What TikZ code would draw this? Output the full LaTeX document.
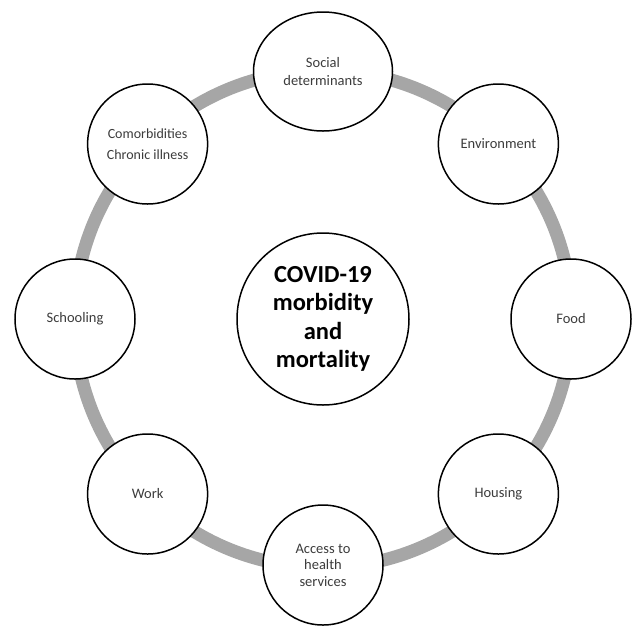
\documentclass[tikz,border=0pt]{standalone}
\usepackage{fontspec}
\setmainfont{Carlito}
\usepackage{tikz}
\definecolor{ringgray}{RGB}{166, 166, 166}
\definecolor{txt}{RGB}{60, 60, 60}
\usetikzlibrary{shapes.geometric}

\begin{document}
\begin{tikzpicture}[
  factor/.style={circle, minimum size=120pt, inner sep=0pt, fill=white, line width=1.5pt, draw=black, align=center, text=txt, font=\fontsize{14.5}{17.5}\selectfont},
  ring/.style={line width=13pt, color=ringgray}]
\useasboundingbox (0pt, 0pt) rectangle (634pt, -625pt);
\node (core) [circle, minimum size=172pt, inner sep=0pt, fill=white, line width=1.5pt, draw=black, align=center, font=\fontsize{24.5}{28.3}\selectfont\bfseries] at (323.0pt, -319.0pt) {COVID-19\\morbidity\\and\\mortality};
% ring behind the factors
\draw [ring] (core.center) circle (248.5pt);
\node (soc) [factor, ellipse, minimum width=139pt, minimum height=119pt] at (323.0pt, -71.5pt) {Social\\determinants};
\node (env) [factor] at (498.4pt, -144.0pt) {Environment};
\node (food) [factor] at (571.0pt, -319.0pt) {Food};
\node (hous) [factor] at (498.4pt, -494.0pt) {Housing};
\node (acc) [factor, font=\fontsize{14.5}{16.5}\selectfont] at (323.0pt, -565.0pt) {Access to\\health\\services};
\node (work) [factor] at (147.6pt, -494.0pt) {Work};
\node (schl) [factor] at (75.0pt, -319.0pt) {Schooling};
\node (comor) [factor, font=\fontsize{14}{17}\selectfont] at (147.6pt, -144.0pt) {Comorbidities\\[4pt]Chronic illness};
\end{tikzpicture}
\end{document}
